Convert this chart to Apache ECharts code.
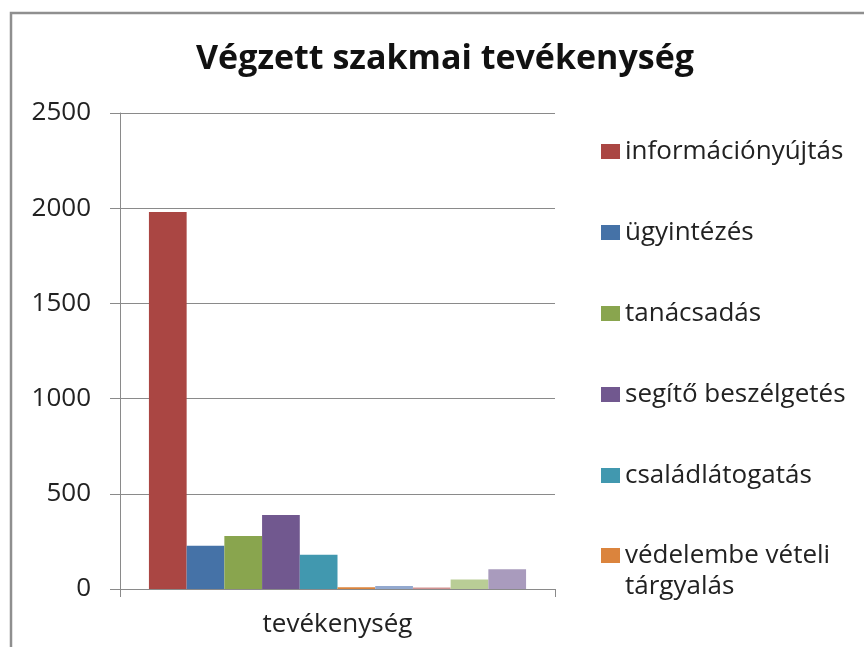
<!DOCTYPE html>
<html>
<head>
<meta charset="utf-8">
<title>Végzett szakmai tevékenység</title>
<script src="https://cdn.jsdelivr.net/npm/echarts@6/dist/echarts.min.js"></script>
<style>
  html, body { margin: 0; padding: 0; background: #fff; }
  #chart { width: 864px; height: 647px; }
</style>
</head>
<body>
<div id="chart"></div>
<script>
// adatok
const categories = ['tevékenység'];
const seriesNames = [
  'információnyújtás',
  'ügyintézés',
  'tanácsadás',
  'segítő beszélgetés',
  'családlátogatás',
  'védelembe vételi tárgyalás',
  'esetkonferencia',
  'krízisintervenció',
  'csoportfoglalkozás',
  'egyéb'
];
const seriesValues = [1980, 227, 278, 388, 180, 9, 16, 8, 50, 104];
const yTicks = [0, 500, 1000, 1500, 2000, 2500];

const colors = ['#AA4643', '#4572A7', '#89A54E', '#71588F', '#4198AF',
  '#DB843D', '#93A9CF', '#D19392', '#B9CD96', '#A99BBD'];

const font = '"Open Sans", sans-serif';
const gray = '#8a8a8a';

const chart = echarts.init(document.getElementById('chart'));

const series = seriesNames.map((name, i) => ({
  name: name,
  type: 'bar',
  data: [seriesValues[i]],
  barGap: '0%',
  barCategoryGap: '13.3%',
  itemStyle: { color: colors[i] }
}));

const legendText = { fontFamily: font, fontSize: 26, lineHeight: 31, color: '#222' };

const option = {
  backgroundColor: '#fff',
  animation: false,
  color: colors,
  title: {
    text: 'Végzett szakmai tevékenység',
    left: 191,
    top: 37,
    textStyle: {
      fontFamily: font,
      fontWeight: 'bold',
      fontSize: 34,
      color: '#111'
    }
  },
  legend: [
    {
      data: seriesNames.slice(0, 5),
      orient: 'vertical',
      left: 601,
      top: 136,
      padding: 0,
      itemWidth: 19,
      itemHeight: 15,
      itemGap: 50,
      icon: 'rect',
      selectedMode: false,
      textStyle: legendText
    },
    {
      // az utolsó látható tétel két sorban, az első sor a jel mellett
      data: [seriesNames[5]],
      formatter: () => '\nvédelembe vételi\ntárgyalás',
      orient: 'vertical',
      left: 601,
      top: 509,
      padding: 0,
      itemWidth: 19,
      itemHeight: 15,
      icon: 'rect',
      selectedMode: false,
      textStyle: legendText
    }
  ],
  grid: {
    left: 120,
    right: 309,
    top: 113,
    bottom: 58
  },
  xAxis: {
    type: 'category',
    data: categories,
    axisLine: { lineStyle: { color: gray, width: 1 } },
    axisTick: { show: true, length: 8, lineStyle: { color: gray } },
    axisLabel: {
      fontFamily: font,
      fontSize: 26,
      color: '#222',
      margin: 23
    }
  },
  yAxis: {
    type: 'value',
    min: yTicks[0],
    max: yTicks[yTicks.length - 1],
    interval: 500,
    axisLine: { show: true, lineStyle: { color: gray, width: 1 } },
    axisTick: { show: true, length: 10, lineStyle: { color: gray } },
    splitLine: { lineStyle: { color: gray, width: 1 } },
    axisLabel: {
      fontFamily: font,
      fontSize: 26,
      color: '#222',
      margin: 29,
      formatter: (v) => String(v)
    }
  },
  graphic: [
    {
      type: 'polyline',
      shape: { points: [[11, 647], [11, 13], [864, 13]] },
      style: { stroke: '#8f8f8f', lineWidth: 2.5, fill: null },
      silent: true
    }
  ],
  series: series
};

chart.setOption(option);
</script>
</body>
</html>
